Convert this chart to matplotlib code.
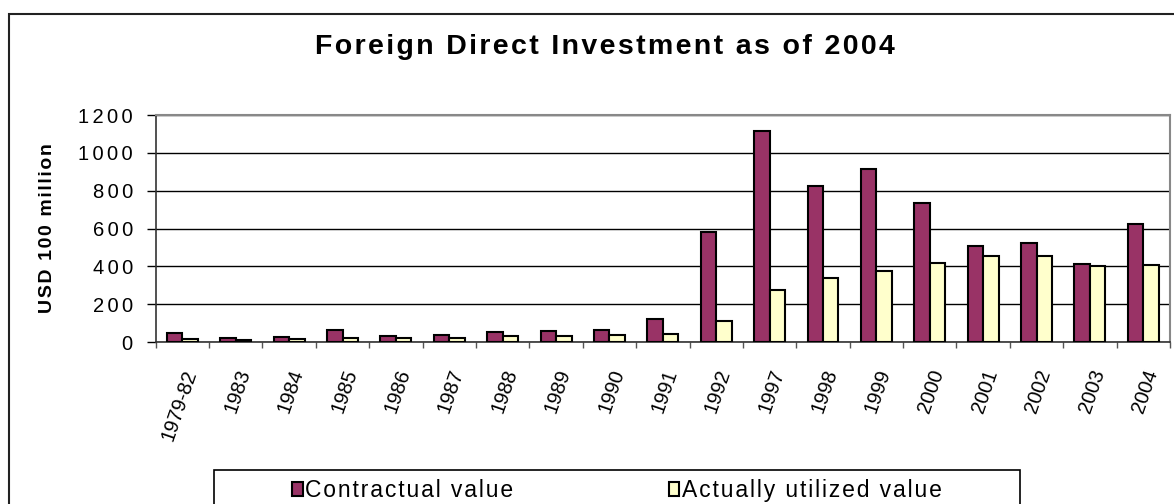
import numpy as np
import matplotlib.pyplot as plt
from matplotlib.patches import Rectangle

plt.rcParams['font.family'] = ['Liberation Sans', 'DejaVu Sans']

years = ['1979-82', '1983', '1984', '1985', '1986', '1987', '1988', '1989',
         '1990', '1991', '1992', '1997', '1998', '1999', '2000', '2001',
         '2002', '2003', '2004']
contractual = [49.6, 19.2, 28.8, 63.3, 33.3, 37.1, 53.0, 56.0, 66.0, 119.8,
               581.2, 1114.4, 826.8, 912.8, 732.8, 510.0, 521.0, 412.2, 623.8]
utilized = [17.7, 9.2, 14.2, 19.6, 22.4, 23.1, 31.9, 33.9, 34.9, 43.7,
            110.1, 275.2, 337.7, 375.2, 417.3, 452.6, 454.6, 403.2, 407.2]
yticks = [0, 200, 400, 600, 800, 1000, 1200]


def track(s, sp='\u200a'):
    # fake letter spacing like the old Excel rendering
    return sp.join(s)


W, H = 1174, 504
fig = plt.figure(figsize=(W / 100, H / 100), dpi=100)

# outer chart border
fig.patches.append(Rectangle((9 / W, -0.01), 1.0, 1 - 14 / H + 0.01,
                             transform=fig.transFigure, fill=False,
                             edgecolor='#222222', lw=1.5))

ax = fig.add_axes([155.7 / W, 1 - 342 / H, (1170 - 155.7) / W, (342 - 115) / H])

x = np.arange(len(years))
bw = 0.29
ax.bar(x - bw / 2, contractual, bw, color='#993366', edgecolor='black',
       lw=1.5, label='Contractual value', zorder=3)
ax.bar(x + bw / 2, utilized, bw, color='#FFFFCC', edgecolor='black',
       lw=1.5, label='Actually utilized value', zorder=3)

ax.set_xlim(-0.5, len(years) - 0.5)
ax.set_ylim(0, 1200)
ax.set_yticks(yticks)
ax.set_yticklabels([track(str(v), '\u2006') for v in yticks])
ax.yaxis.grid(True, color='black', lw=1, zorder=0)
ax.tick_params(axis='y', labelsize=14.5, length=6.5, width=1, pad=10)

# ticks between categories, labels at centers
ax.set_xticks(np.arange(-0.5, len(years), 1))
ax.set_xticklabels([])
ax.set_xticks(x, minor=True)
ax.set_xticklabels(years, minor=True, rotation=71, ha='right', va='top',
                   rotation_mode='anchor', fontsize=14.5)
ax.tick_params(axis='x', which='major', length=4.5, width=1, color='#555555')
ax.tick_params(axis='x', which='minor', length=0, pad=18)

for s in ['top', 'right']:
    ax.spines[s].set_color('#888888')
    ax.spines[s].set_linewidth(1.5)
for s in ['left', 'bottom']:
    ax.spines[s].set_color('#333333')
    ax.spines[s].set_linewidth(1.2)

fig.text(47 / W, 1 - 228.5 / H, track('USD 100 million'),
         rotation=90, ha='center', va='center', fontsize=14, fontweight='bold')

fig.text(605 / W, 1 - 47 / H, track('Foreign Direct Investment as of 2004'),
         ha='center', va='center', fontsize=20.5, fontweight='bold')

# legend box
fig.patches.append(Rectangle((214 / W, -0.01), (1020 - 214) / W, 0.01 + 1 - 470 / H,
                             transform=fig.transFigure, fill=False,
                             edgecolor='black', lw=1.2))
handles, labels = ax.get_legend_handles_labels()
labels = [track(l) for l in labels]
leg = fig.legend(handles, labels, loc='upper left',
                 bbox_to_anchor=(292 / W, 1 - 479 / H), ncol=2, fontsize=16.5,
                 frameon=False, borderpad=0, borderaxespad=0,
                 handlelength=0.46, handleheight=0.52, handletextpad=0.1,
                 columnspacing=6.8)

fig.savefig('out.png', dpi=100)
